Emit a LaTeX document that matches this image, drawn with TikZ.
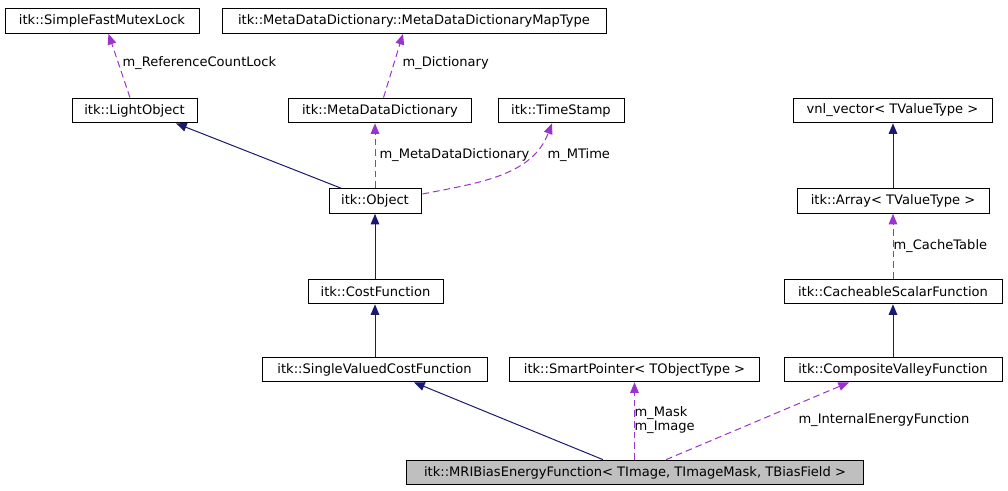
\documentclass[tikz,border=0pt]{standalone}
\usepackage{fontspec}
\setmainfont{DejaVu Sans}
\usetikzlibrary{arrows.meta,calc}
\definecolor{navy}{HTML}{191970}
\definecolor{orchid}{HTML}{9A32CD}
\definecolor{boxgrey}{HTML}{BFBFBF}

\begin{document}
\begin{tikzpicture}[x = 0.75pt, y = -0.75pt, line width = 0.75pt,
                        cls/.style = {draw, rectangle, minimum height = 18.5pt, inner sep = 0pt,
                                      font = \fontsize{9.8}{12}\selectfont},
                        cur/.style = {cls, fill = boxgrey},
                        lbl/.style = {anchor = west, inner sep = 0pt, align = left,
                                      font = \fontsize{9.8}{11}\selectfont},
                        inherit/.style = {-{Triangle[length = 8pt, width = 6.5pt]}, navy},
                        member/.style = {-{Triangle[length = 8pt, width = 6.5pt]}, orchid,
                                         dash pattern = on 5pt off 3pt}]
      \useasboundingbox (0, 0) rectangle (1008, 491);
      \node [cls, minimum width = 145.5pt] (mutex) at (102, 21){itk::SimpleFastMutexLock};
      \node [cls, minimum width = 288pt] (maptype) at (414, 21){itk::MetaDataDictionary::MetaDataDictionaryMapType};
      \node [cls, minimum width = 93.75pt] (light) at (134.5, 110.5){itk::LightObject};
      \node [cls, minimum width = 137.25pt] (dict) at (380, 110.5){itk::MetaDataDictionary};
      \node [cls, minimum width = 94.5pt] (stamp) at (561, 110.5){itk::TimeStamp};
      \node [cls, minimum width = 149.25pt] (vnl) at (892.5, 110.5){vnl\_vector< TValueType >};
      \node [cls, minimum width = 69pt] (obj) at (375, 201){itk::Object};
      \node [cls, minimum width = 144pt] (arr) at (893, 201){itk::Array< TValueType >};
      \node [cls, minimum width = 101.25pt] (cost) at (375.5, 291.5){itk::CostFunction};
      \node [cls, minimum width = 163.5pt] (cache) at (893, 291.5){itk::CacheableScalarFunction};
      \node [cls, minimum width = 168.75pt] (single) at (374.5, 369.5){itk::SingleValuedCostFunction};
      \node [cls, minimum width = 187.5pt] (smart) at (634.5, 369.5){itk::SmartPointer< TObjectType >};
      \node [cls, minimum width = 163.5pt] (valley) at (893, 369.5){itk::CompositeValleyFunction};
      \node [cur, minimum width = 342.75pt] (mri) at (635, 472.5){itk::MRIBiasEnergyFunction< TImage, TImageMask, TBiasField >};
      \draw [member] ($(light.north)+(-4.5, 0)$) -- ($(mutex.south)+(6.5, 0)$);
      \draw [member] ($(dict.north)+(3.5, 0)$) -- ($(maptype.south)+(-11, 0)$);
      \draw [inherit] ($(obj.north)+(-34, 0)$) -- ($(light.south)+(41.5, 0)$);
      \draw [member] (obj.north) -- (obj.north |- dict.south);
      \draw [member] ($(obj.east)+(1, -7)$) .. controls (478, 183) and (532, 176) .. ($(stamp.south)+(-9, 0)$);
      \draw [inherit] (cost.north -| obj.south) -- (obj.south);
      \draw [inherit] (single.north -| obj.south) -- (cost.south -| obj.south);
      \draw [inherit] (arr.north) -- (vnl.south -| arr.north);
      \draw [member] (cache.north) -- (arr.south);
      \draw [inherit] (valley.north) -- (cache.south);
      \draw [inherit] ($(mri.north)+(-32, 0)$) -- ($(single.south)+(39.5, 0)$);
      \draw [member] (mri.north -| smart.south) -- (smart.south);
      \draw [member] ($(mri.north)+(31, 0)$) -- ($(valley.south)+(-44, 0)$);
      \node [lbl] (lock) at (122, 63){m\_ReferenceCountLock};
      \node [lbl] (dictlbl) at (402, 63){m\_Dictionary};
      \node [lbl] (metalbl) at (379, 155){m\_MetaDataDictionary};
      \node [lbl] (timelbl) at (547, 155){m\_MTime};
      \node [lbl] (tablelbl) at (893, 246){m\_CacheTable};
      \node [lbl] (masklbl) at (634, 420){m\_Mask\\m\_Image};
      \node [lbl] (energylbl) at (798, 420){m\_InternalEnergyFunction};
    \end{tikzpicture}
\end{document}
